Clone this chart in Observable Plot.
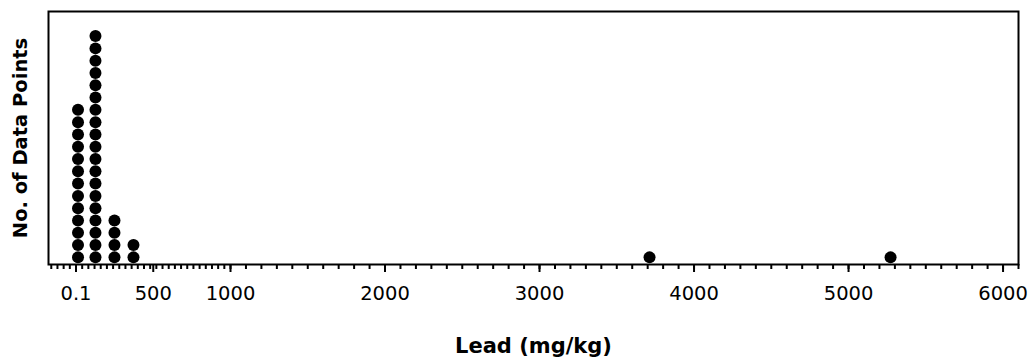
<!DOCTYPE html>
<html>
<head>
<meta charset="utf-8">
<script src="https://cdn.jsdelivr.net/npm/d3@7"></script>
<script src="https://cdn.jsdelivr.net/npm/@observablehq/plot@0.6"></script>
<style>
  html, body { margin: 0; padding: 0; background: white; }
</style>
</head>
<body>
<div id="chart"></div>
<script>
// Data
const binValues = [13, 126, 249, 372, 3712, 5272];   // Lead (mg/kg), bin centres
const binCounts = [13, 19, 4, 2, 1, 1];              // number of data points per bin
const tickValues = [0.1, 500, 1000, 2000, 3000, 4000, 5000, 6000];
const tickLabels = ["0.1", "500", "1000", "2000", "3000", "4000", "5000", "6000"];
const minorTicks = [...d3.range(-160, 1000, 40), ...d3.range(1000, 6101, 100)];
const xTitle = "Lead (mg/kg)";
const yTitle = "No. of Data Points";

// Expand bins into stacked dots
const points = [];
binValues.forEach((v, i) => {
  for (let k = 1; k <= binCounts[i]; k++) points.push({x: v, y: k});
});

const chart = Plot.plot({
  width: 1028,
  height: 361,
  marginLeft: 48,
  marginRight: 10,
  marginTop: 11,
  marginBottom: 97,
  style: {fontFamily: "DejaVu Sans, Verdana, sans-serif", background: "white", color: "black"},
  x: {domain: [-178, 6100]},
  y: {domain: [0.42, 21], axis: null},
  marks: [
    Plot.axisX({ticks: minorTicks, tickSize: 5, tickFormat: () => "", label: null, strokeWidth: 2}),
    Plot.axisX({
      ticks: tickValues, tickSize: 8, tickPadding: 14, fontSize: 19.5, label: null, strokeWidth: 2,
      tickFormat: d => tickLabels[tickValues.indexOf(d)]
    }),
    Plot.dot(points, {x: "x", y: "y", r: 6, fill: "black", stroke: null}),
    Plot.frame({stroke: "black", strokeWidth: 2}),
    Plot.text([xTitle], {frameAnchor: "bottom", dy: 88, text: d => d, fontSize: 21, fontWeight: "bold", fill: "black"}),
    Plot.text([yTitle], {frameAnchor: "left", textAnchor: "middle", dx: -28, rotate: -90, text: d => d, fontSize: 19.5, fontWeight: "bold", fill: "black"})
  ]
});
document.getElementById("chart").appendChild(chart);
</script>
</body>
</html>
